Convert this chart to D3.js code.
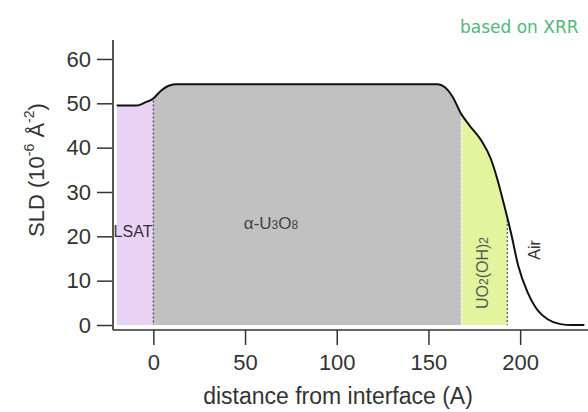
<!DOCTYPE html>
<html>
<head>
<meta charset="utf-8">
<script src="https://cdn.jsdelivr.net/npm/d3@7"></script>
<style>
  body { margin: 0; background: #fff; }
  svg { display: block; font-family: "Liberation Sans", Arial, sans-serif; }
</style>
</head>
<body>
<div id="chart"></div>
<script>
// SLD depth profile
const distance = [-20, -9, -4.5, 0, 4, 8, 12, 155, 159, 163, 168, 172, 179, 184, 187.5, 191, 195, 199, 204, 209, 215, 222, 228, 235];
const sld      = [49.5, 49.5, 50.2, 51.1, 52.8, 53.9, 54.3, 54.3, 53.6, 51.6, 47.5, 45.2, 41.5, 37.5, 33, 27.5, 20.8, 13.3, 7.4, 3.6, 1.3, 0.2, 0, 0];

// layer boundaries
const layerNames = ['LSAT', 'U3O8', 'UO2(OH)2'];
const layerStart = [-20, 0, 168];
const layerEnd   = [0, 168, 193];
const layerColors = ['#e8d4f2', '#c1c1c1', '#e2f59e'];

const xTicks = [0, 50, 100, 150, 200];
const yTicks = [0, 10, 20, 30, 40, 50, 60];

const W = 588, H = 412;
const axisX = 113, axisY = 330;

const svg = d3.select('#chart').append('svg')
  .attr('width', W)
  .attr('height', H);

const x = d3.scaleLinear().domain([-22, 237]).range([113, 588]);
const y = d3.scaleLinear().domain([0, 65]).range([325, 36.8]);

const points = distance.map((d, i) => [d, sld[i]]);

const area = d3.area()
  .x(d => x(d[0]))
  .y0(y(0))
  .y1(d => y(d[1]))
  .curve(d3.curveMonotoneX);

const line = d3.line()
  .x(d => x(d[0]))
  .y(d => y(d[1]))
  .curve(d3.curveMonotoneX);

// one clip per layer, then the same area filled inside it
const defs = svg.append('defs');
layerNames.forEach((name, i) => {
  defs.append('clipPath')
    .attr('id', 'clip' + i)
    .append('rect')
    .attr('x', x(layerStart[i]))
    .attr('y', 0)
    .attr('width', x(layerEnd[i]) - x(layerStart[i]))
    .attr('height', H);

  svg.append('path')
    .datum(points)
    .attr('clip-path', `url(#clip${i})`)
    .attr('d', area)
    .attr('fill', layerColors[i]);
});

// interface markers
const bisect = d3.bisector(d => d).left;
function sldAt(v) {
  const j = bisect(distance, v);
  if (j <= 0) return sld[0];
  const t = (v - distance[j - 1]) / (distance[j] - distance[j - 1]);
  return sld[j - 1] + t * (sld[j] - sld[j - 1]);
}
const markers = [0, 168, 193];
const markerColors = ['#4a3a5a', '#f4f4f4', '#555'];
markers.forEach((m, i) => {
  svg.append('line')
    .attr('x1', x(m)).attr('x2', x(m))
    .attr('y1', y(sldAt(m)) + 2)
    .attr('y2', y(0))
    .attr('stroke', markerColors[i])
    .attr('stroke-width', i === 1 ? 1.5 : 1.2)
    .attr('stroke-dasharray', '2,2');
});

// profile line
svg.append('path')
  .datum(points)
  .attr('d', line)
  .attr('fill', 'none')
  .attr('stroke', '#111')
  .attr('stroke-width', 2);

// axes
const yAxis = svg.append('g')
  .attr('transform', `translate(${axisX},0)`)
  .call(d3.axisLeft(y).tickValues(yTicks).tickSize(16).tickPadding(6));
yAxis.select('.domain').remove();
yAxis.selectAll('line').attr('stroke', '#333').attr('stroke-width', 1.5);
yAxis.selectAll('text')
  .style('font-size', '22px')
  .style('fill', '#333')
  .style('font-family', '"Liberation Sans", Arial, sans-serif');

svg.append('line')
  .attr('x1', axisX).attr('x2', axisX)
  .attr('y1', 40).attr('y2', axisY)
  .attr('stroke', '#555').attr('stroke-width', 2);

const xAxis = svg.append('g')
  .attr('transform', `translate(0,${axisY})`)
  .call(d3.axisBottom(x).tickValues(xTicks).tickSize(15).tickPadding(9));
xAxis.select('.domain').remove();
xAxis.selectAll('line').attr('stroke', '#333').attr('stroke-width', 1.5);
xAxis.selectAll('text')
  .style('font-size', '22px')
  .style('fill', '#333')
  .style('font-family', '"Liberation Sans", Arial, sans-serif');

svg.append('line')
  .attr('x1', axisX).attr('x2', W)
  .attr('y1', axisY).attr('y2', axisY)
  .attr('stroke', '#333').attr('stroke-width', 1.5);

// axis titles
svg.append('text')
  .attr('x', 338)
  .attr('y', 404)
  .attr('text-anchor', 'middle')
  .style('font-size', '23px')
  .style('fill', '#333')
  .text('distance from interface (A)');

const yTitle = svg.append('text')
  .attr('transform', 'translate(44,170) rotate(-90)')
  .attr('text-anchor', 'middle')
  .style('font-size', '22px')
  .style('fill', '#333');
yTitle.append('tspan').text('SLD (10');
yTitle.append('tspan').attr('dy', -10).style('font-size', '14px').text('-6');
yTitle.append('tspan').attr('dy', 10).text(' Å');
yTitle.append('tspan').attr('dy', -10).style('font-size', '14px').text('-2');
yTitle.append('tspan').attr('dy', 10).text(')');

// layer labels
svg.append('text')
  .attr('x', 133).attr('y', 237)
  .attr('text-anchor', 'middle')
  .style('font-size', '16px')
  .style('fill', '#3a2a45')
  .text('LSAT');

const u3o8 = svg.append('text')
  .attr('x', 271).attr('y', 229)
  .attr('text-anchor', 'middle')
  .style('font-size', '17px')
  .style('fill', '#444');
u3o8.append('tspan').text('α-U');
u3o8.append('tspan').style('font-size', '12px').text('3');
u3o8.append('tspan').text('O');
u3o8.append('tspan').style('font-size', '12px').text('8');

const uo2 = svg.append('text')
  .attr('transform', 'translate(488,273) rotate(-90)')
  .attr('text-anchor', 'middle')
  .style('font-size', '16px')
  .style('fill', '#555');
uo2.append('tspan').text('UO');
uo2.append('tspan').style('font-size', '12px').text('2');
uo2.append('tspan').text('(OH)');
uo2.append('tspan').style('font-size', '12px').text('2');

svg.append('text')
  .attr('transform', 'translate(540,250) rotate(-90)')
  .attr('text-anchor', 'middle')
  .style('font-size', '16px')
  .style('fill', '#333')
  .text('Air');

svg.append('text')
  .attr('x', 460).attr('y', 33)
  .style('font-family', '"DejaVu Sans", Verdana, sans-serif')
  .style('font-size', '17px')
  .style('fill', '#4fb87d')
  .text('based on XRR');
</script>
</body>
</html>
